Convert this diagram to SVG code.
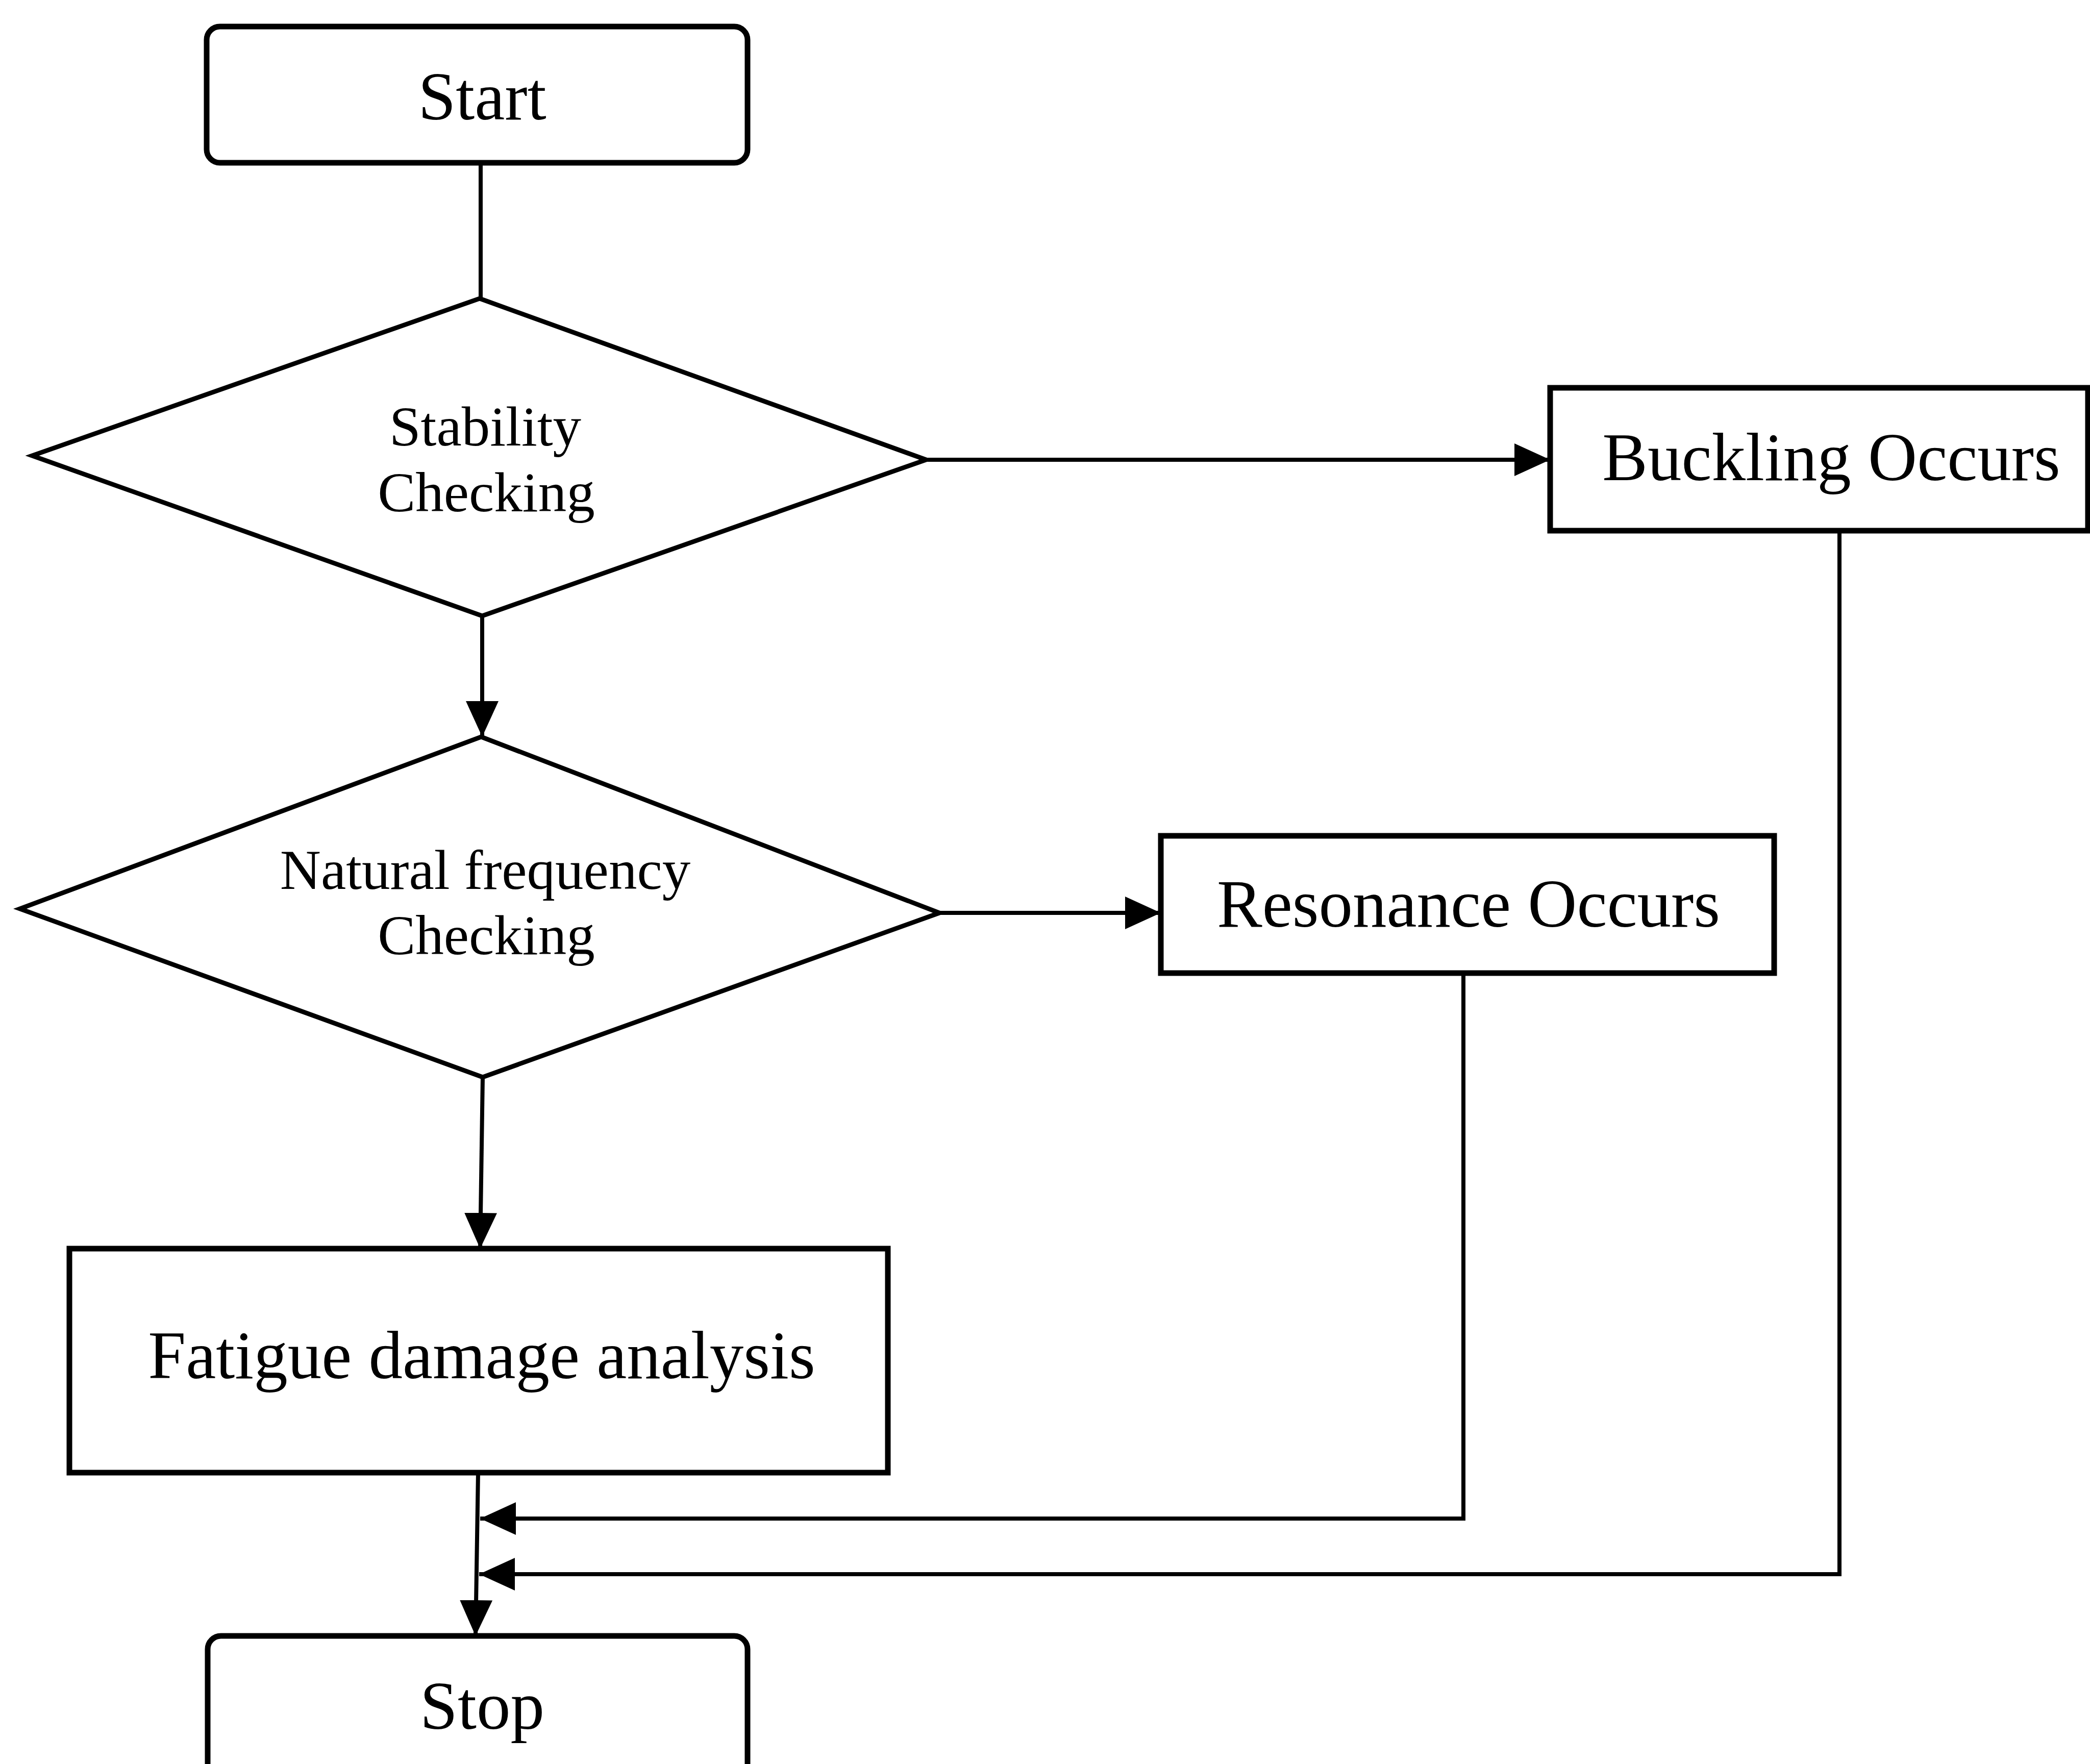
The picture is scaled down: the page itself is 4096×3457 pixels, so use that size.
<svg xmlns="http://www.w3.org/2000/svg" width="4096" height="3457" viewBox="0 0 4096 3457">
  <style>
    .box { fill: #fff; stroke: #000; stroke-width: 11; }
    .dec { fill: #fff; stroke: #000; stroke-width: 9; stroke-linejoin: miter; }
    .link { fill: none; stroke: #000; stroke-width: 8; }
    .lbl { font-family: "Liberation Serif", "Times New Roman", serif; fill: #000; text-anchor: middle; }
    .big { font-size: 133px; }
    .small { font-size: 111px; }
  </style>
  <defs>
    <marker id="arrow" viewBox="0 0 70 64" refX="70" refY="32" markerWidth="70" markerHeight="64" markerUnits="userSpaceOnUse" orient="auto">
      <path d="M0,0 L70,32 L0,64 Z" fill="#000"/>
    </marker>
  </defs>
  <rect x="0" y="0" width="4096" height="3457" fill="#fff"/>

  <g id="connectors">
    <line class="link" x1="942" y1="319" x2="942" y2="585"/>
    <line class="link" x1="945" y1="1207" x2="945" y2="1444" marker-end="url(#arrow)"/>
    <line class="link" x1="1815" y1="901" x2="3038" y2="901" marker-end="url(#arrow)"/>
    <line class="link" x1="1841" y1="1789" x2="2275" y2="1789" marker-end="url(#arrow)"/>
    <line class="link" x1="946" y1="2111" x2="941" y2="2447" marker-end="url(#arrow)"/>
    <line class="link" x1="937" y1="2886" x2="932" y2="3206" marker-end="url(#arrow)"/>
    <polyline class="link" points="2868,1907 2868,2976 941,2976" marker-end="url(#arrow)"/>
    <polyline class="link" points="3605,1040 3605,3085 939,3085" marker-end="url(#arrow)"/>
  </g>

  <g id="start">
    <rect class="box" x="405" y="52" width="1060" height="267" rx="26" ry="26"/>
    <text class="lbl big" x="945" y="234">Start</text>
  </g>

  <g id="stability">
    <polygon class="dec" points="940,585 1815,901 945,1207 63,893"/>
    <text class="lbl small" x="951" y="873">Stability</text>
    <text class="lbl small" x="953" y="1002">Checking</text>
  </g>

  <g id="buckling">
    <rect class="box" x="3038" y="760" width="1054" height="280"/>
    <text class="lbl big" x="3589" y="941">Buckling Occurs</text>
  </g>

  <g id="natural-frequency">
    <polygon class="dec" points="943,1444 1841,1789 946,2111 39,1781"/>
    <text class="lbl small" x="951" y="1742">Natural frequency</text>
    <text class="lbl small" x="953" y="1870">Checking</text>
  </g>

  <g id="resonance">
    <rect class="box" x="2275" y="1638" width="1202" height="269"/>
    <text class="lbl big" x="2878" y="1816">Resonance Occurs</text>
  </g>

  <g id="fatigue">
    <rect class="box" x="136" y="2447" width="1604" height="439"/>
    <text class="lbl big" x="944" y="2701">Fatigue damage analysis</text>
  </g>

  <g id="stop">
    <rect class="box" x="407" y="3206" width="1058" height="300" rx="26" ry="26"/>
    <text class="lbl big" x="945" y="3388">Stop</text>
  </g>
</svg>
